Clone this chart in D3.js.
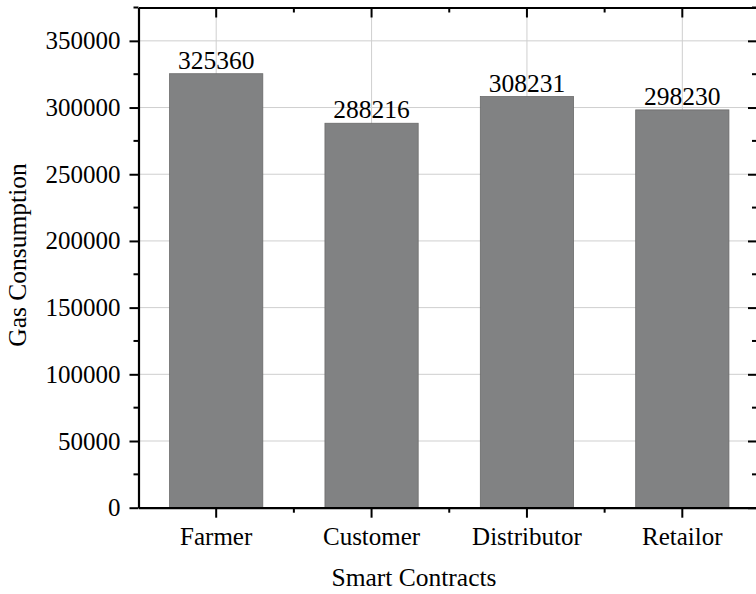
<!DOCTYPE html>
<html>
<head>
<meta charset="utf-8">
<script src="https://cdn.jsdelivr.net/npm/d3@7"></script>
<style>
  html, body { margin: 0; padding: 0; background: #fff; }
  svg { display: block; }
  text { font-family: "Liberation Serif", "Times New Roman", serif; fill: #000; }
</style>
</head>
<body>
<svg id="chart" width="756" height="594"></svg>
<script>
// Gas used by each smart contract
const contracts = ["Farmer", "Customer", "Distributor", "Retailor"];
const gasUsed = [325360, 288216, 308231, 298230];
const yTicks = [0, 50000, 100000, 150000, 200000, 250000, 300000, 350000];
const yMinorTicks = [25000, 75000, 125000, 175000, 225000, 275000, 325000, 375000];
const xTitle = "Smart Contracts";
const yTitle = "Gas Consumption";

const svg = d3.select("#chart");
const plotLeft = 138.5, plotRight = 760, plotTop = 7.5, plotBottom = 507.7;

const x = d3.scaleBand().domain(contracts).range([plotLeft, plotRight]).paddingInner(0.4).paddingOuter(0.2);
const y = d3.scaleLinear().domain([0, 375000]).range([plotBottom, plotTop]);
const cx = d => x(d) + x.bandwidth() / 2;

// grid
const grid = svg.append("g").attr("stroke", "#cfcfcf").attr("stroke-width", 1);
grid.selectAll("line.h").data(yTicks.filter(t => t > 0)).join("line")
  .attr("x1", plotLeft).attr("x2", plotRight).attr("y1", d => y(d)).attr("y2", d => y(d));
grid.selectAll("line.v").data(contracts).join("line")
  .attr("x1", cx).attr("x2", cx).attr("y1", plotTop).attr("y2", plotBottom);

// bars
svg.append("g").selectAll("rect").data(contracts).join("rect")
  .attr("x", d => x(d)).attr("width", x.bandwidth())
  .attr("y", (d, i) => y(gasUsed[i])).attr("height", (d, i) => plotBottom - y(gasUsed[i]))
  .attr("fill", "#818283").attr("stroke", "#6a6a6a").attr("stroke-width", 0.8);

// value labels
svg.append("g").selectAll("text").data(contracts).join("text")
  .attr("x", cx).attr("y", (d, i) => y(gasUsed[i]) - 5)
  .attr("text-anchor", "middle").attr("font-size", 25.5)
  .text((d, i) => gasUsed[i]);

// axes
const yAxis = d3.axisLeft(y).tickValues(yTicks).tickSizeOuter(0).tickSizeInner(9).tickPadding(9).tickFormat(d3.format("d"));
const gy = svg.append("g").attr("transform", `translate(${plotLeft},0)`).call(yAxis);
gy.append("g").selectAll("line").data(yMinorTicks).join("line")
  .attr("x1", -5).attr("x2", 0).attr("y1", d => y(d)).attr("y2", d => y(d));

const xAxis = d3.axisBottom(x).tickSizeOuter(0).tickSizeInner(10).tickPadding(10);
const gx = svg.append("g").attr("transform", `translate(0,${plotBottom})`).call(xAxis);
const xMinor = contracts.slice(1).map(d => x(d) - x.step() * x.paddingInner() / 2);
gx.append("g").selectAll("line").data(xMinor).join("line")
  .attr("x1", d => d).attr("x2", d => d).attr("y1", 0).attr("y2", 5);

// mirrored top and right axes with inward ticks, no labels
const gt = svg.append("g").attr("transform", `translate(0,${plotTop})`)
  .call(d3.axisBottom(x).tickSizeOuter(0).tickSizeInner(10).tickFormat(""));
gt.append("g").selectAll("line").data(xMinor).join("line")
  .attr("x1", d => d).attr("x2", d => d).attr("y1", 0).attr("y2", 5);
const gr = svg.append("g").attr("transform", `translate(${plotRight - 1},0)`)
  .call(d3.axisRight(y).tickValues(yTicks).tickSizeOuter(0).tickSizeInner(-11).tickFormat(""));
gr.append("g").selectAll("line").data(yMinorTicks).join("line")
  .attr("x1", -7).attr("x2", 0).attr("y1", d => y(d)).attr("y2", d => y(d));

[gy, gx, gt, gr].forEach(g => {
  g.select(".domain").attr("stroke", "#000").attr("stroke-width", 2.2);
  g.selectAll("line").attr("stroke", "#000").attr("stroke-width", 2);
  g.selectAll("text").attr("font-family", "Liberation Serif").attr("font-size", 25).attr("fill", "#000");
});

// axis titles
svg.append("text").attr("x", 414).attr("y", 586).attr("text-anchor", "middle")
  .attr("font-size", 25.5).text(xTitle);
svg.append("text").attr("transform", "translate(26,255) rotate(-90)")
  .attr("text-anchor", "middle").attr("font-size", 25.5).text(yTitle);
</script>
</body>
</html>
